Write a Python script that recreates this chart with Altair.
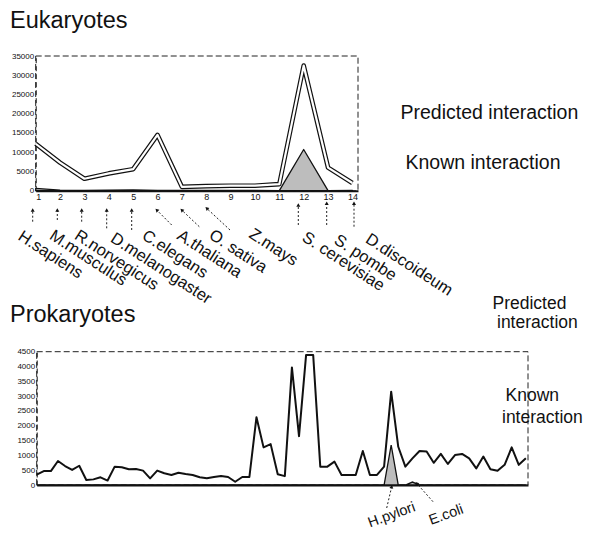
import math
import altair as alt
import pandas as pd

# ------------------------------------------------------------------ data
EUK_INDEX = [1, 2, 3, 4, 5, 6, 7, 8, 9, 10, 11, 12, 13, 14]
EUK_PREDICTED = [12200, 7300, 3100, 4500, 5600, 14500, 1000, 1200, 1300, 1300, 1700, 32500, 6000, 2000]
EUK_KNOWN = [600, 150, 100, 150, 200, 100, 50, 50, 50, 50, 0, 10700, 0, 100]
EUK_Y_TICKS = [0, 5000, 10000, 15000, 20000, 25000, 30000, 35000]
EUK_ORGANISMS = ["H.sapiens", "M.musculus", "R.norvegicus", "D.melanogaster", "C.elegans",
                 "A.thaliana", "O. sativa", "Z.mays", "S. cerevisiae", "S. pombe", "D.discoideum"]

PROK_INDEX = list(range(1, 71))
PROK_PREDICTED = [350, 470, 470, 810, 640, 510, 650, 170, 190, 260,
                  150, 620, 600, 530, 540, 485, 225, 485, 395, 340,
                  415, 370, 340, 260, 225, 270, 305, 270, 110, 270,
                  270, 2290, 1270, 1380, 360, 300, 3970, 1650, 4390, 4390,
                  620, 620, 790, 340, 340, 340, 1150, 340, 340, 620,
                  3150, 1290, 620, 900, 1150, 1130, 750, 1050, 710, 1010,
                  1050, 900, 560, 960, 530, 480, 680, 1270, 680, 900]
PROK_KNOWN = [0, 0, 0, 0, 0, 0, 0, 0, 0, 0,
              0, 0, 0, 0, 0, 0, 0, 0, 0, 0,
              0, 0, 0, 0, 0, 0, 0, 0, 0, 0,
              0, 0, 0, 0, 0, 0, 0, 0, 0, 0,
              0, 0, 0, 0, 0, 0, 0, 0, 0, 0,
              1350, 0, 0, 100, 0, 0, 0, 0, 0, 0,
              0, 0, 0, 0, 0, 0, 0, 0, 0, 0]
PROK_Y_TICKS = [0, 500, 1000, 1500, 2000, 2500, 3000, 3500, 4000, 4500]
PROK_LABELS = ["H.pylori", "E.coli"]

# ------------------------------------------------------------------ layout (page pixels)
W, H = 579, 522
M = 8  # page margin; plot area covers the whole page content


def P(v):
    return v - M


FONT = "Liberation Sans"
INK = "#111111"

EUK_X_DOMAIN = [1, 14.23]
EUK_X_RANGE = [P(35.7), P(358.0)]
EUK_Y_DOMAIN = [0, 35000]
EUK_Y_RANGE = [P(190.7), P(56.0)]
PROK_X_DOMAIN = [1, 70.3]
PROK_X_RANGE = [P(36.7), P(528.0)]
PROK_Y_DOMAIN = [0, 4500]
PROK_Y_RANGE = [P(485.0), P(351.7)]

# ------------------------------------------------------------------ Eukaryotes panel
euk_df = pd.DataFrame({"idx": EUK_INDEX, "predicted": EUK_PREDICTED, "known": EUK_KNOWN})
euk_frame = pd.DataFrame({"x0": [EUK_X_DOMAIN[0]], "x1": [EUK_X_DOMAIN[1]],
                          "y0": [EUK_Y_DOMAIN[0]], "y1": [EUK_Y_DOMAIN[1]]})

euk_xscale = alt.Scale(domain=EUK_X_DOMAIN, range=EUK_X_RANGE, nice=False, zero=False)
euk_yscale = alt.Scale(domain=EUK_Y_DOMAIN, range=EUK_Y_RANGE, nice=False, zero=False)
euk_xaxis = alt.Axis(orient="bottom", offset=-(H - EUK_Y_RANGE[0]), values=EUK_INDEX, format="d",
                     title=None, grid=False, ticks=False, labelPadding=2, labelFontSize=9,
                     labelFont=FONT, labelColor=INK, domainColor=INK, domainWidth=2)
euk_yaxis = alt.Axis(orient="left", offset=-EUK_X_RANGE[0], values=EUK_Y_TICKS, format="d",
                     title=None, grid=False, ticks=False, labelPadding=2, labelFontSize=8,
                     labelFont=FONT, labelColor=INK, domainColor=INK, domainDash=[5, 3])

euk_area = alt.Chart(euk_df).mark_area(fill="#bdbdbd", stroke=INK, strokeWidth=1.3,
                                       strokeJoin="round").encode(
    x=alt.X("idx:Q", scale=euk_xscale, axis=euk_xaxis),
    y=alt.Y("known:Q", scale=euk_yscale, axis=euk_yaxis),
)
euk_line_out = alt.Chart(euk_df).mark_line(color=INK, strokeWidth=4.6, strokeJoin="round").encode(
    x=alt.X("idx:Q", scale=euk_xscale, axis=euk_xaxis),
    y=alt.Y("predicted:Q", scale=euk_yscale, axis=euk_yaxis),
)
euk_line_in = alt.Chart(euk_df).mark_line(color="white", strokeWidth=2.2, strokeJoin="round").encode(
    x=alt.X("idx:Q", scale=euk_xscale, axis=euk_xaxis),
    y=alt.Y("predicted:Q", scale=euk_yscale, axis=euk_yaxis),
)
euk_box = alt.Chart(euk_frame).mark_rect(filled=False, color="#222222", strokeWidth=1,
                                         strokeDash=[6, 3]).encode(
    x=alt.X("x0:Q", scale=euk_xscale, axis=euk_xaxis), x2="x1",
    y=alt.Y("y0:Q", scale=euk_yscale, axis=euk_yaxis), y2="y1",
)
euk = alt.layer(euk_box, euk_area, euk_line_out, euk_line_in)

# ------------------------------------------------------------------ Prokaryotes panel
prok_df = pd.DataFrame({"idx": PROK_INDEX, "predicted": PROK_PREDICTED, "known": PROK_KNOWN})
prok_frame = pd.DataFrame({"x0": [PROK_X_DOMAIN[0]], "x1": [PROK_X_DOMAIN[1]],
                           "y0": [PROK_Y_DOMAIN[0]], "y1": [PROK_Y_DOMAIN[1]]})

prok_xscale = alt.Scale(domain=PROK_X_DOMAIN, range=PROK_X_RANGE, nice=False, zero=False)
prok_yscale = alt.Scale(domain=PROK_Y_DOMAIN, range=PROK_Y_RANGE, nice=False, zero=False)
prok_xaxis = alt.Axis(orient="bottom", offset=-(H - PROK_Y_RANGE[0]), labels=False, ticks=False,
                      title=None, grid=False, domainColor=INK, domainWidth=2)
prok_yaxis = alt.Axis(orient="left", offset=-PROK_X_RANGE[0], values=PROK_Y_TICKS, format="d",
                      title=None, grid=False, ticks=False, labelPadding=2, labelFontSize=8,
                      labelFont=FONT, labelColor=INK, domainColor=INK, domainDash=[5, 3])

prok_area = alt.Chart(prok_df).mark_area(fill="#bdbdbd", stroke=INK, strokeWidth=1.3).encode(
    x=alt.X("idx:Q", scale=prok_xscale, axis=prok_xaxis),
    y=alt.Y("known:Q", scale=prok_yscale, axis=prok_yaxis),
)
prok_line = alt.Chart(prok_df).mark_line(color=INK, strokeWidth=2, strokeJoin="round").encode(
    x=alt.X("idx:Q", scale=prok_xscale, axis=prok_xaxis),
    y=alt.Y("predicted:Q", scale=prok_yscale, axis=prok_yaxis),
)
prok_box = alt.Chart(prok_frame).mark_rect(filled=False, color="#222222", strokeWidth=1,
                                           strokeDash=[6, 3]).encode(
    x=alt.X("x0:Q", scale=prok_xscale, axis=prok_xaxis), x2="x1",
    y=alt.Y("y0:Q", scale=prok_yscale, axis=prok_yaxis), y2="y1",
)
prok = alt.layer(prok_box, prok_area, prok_line)

# ------------------------------------------------------------------ annotations (page pixels)
titles = pd.DataFrame({"text": ["Eukaryotes", "Prokaryotes"],
                       "px": [P(10), P(10)], "py": [P(28.3), P(321.7)]})
euk_legend = pd.DataFrame({"text": ["Predicted interaction", "Known interaction"],
                           "px": [P(400.5), P(405.5)], "py": [P(119), P(169)]})
prok_legend = pd.DataFrame({"text": ["Predicted", "interaction", "Known", "interaction"],
                            "px": [P(492.5), P(497), P(505.5), P(502)],
                            "py": [P(309.3), P(328.3), P(400.7), P(423)]})
org_anchor_x = [17, 48.5, 73.5, 109.5, 141, 176, 208, 248, 301, 333, 364.5]
org_anchor_y = [239, 238.3, 238.3, 241, 238.3, 238.3, 237.7, 236.7, 240, 242.7, 241.7]
org_labels = pd.DataFrame({"text": EUK_ORGANISMS,
                           "px": [P(v) for v in org_anchor_x], "py": [P(v) for v in org_anchor_y]})
prok_lab = pd.DataFrame({"text": PROK_LABELS, "px": [P(370), P(431)], "py": [P(527.5), P(525)]})

# arrows: tail -> tip
arrow_tail = [(32.7, 221.7), (57.3, 220), (81.7, 221.7), (106.7, 228.3), (131.7, 230),
              (171.7, 225), (199.3, 226.7), (230, 230), (298.3, 225), (326.7, 225), (354, 226.7),
              (386.7, 508), (433, 501.7)]
arrow_tip = [(32.7, 210), (57.3, 210), (81.7, 210), (106.7, 210), (131.7, 210),
             (156.7, 210), (181.7, 210), (206.7, 208.3), (298.3, 205), (326.7, 203.3), (354, 203.3),
             (391.7, 486.7), (416.7, 483.3)]
arrows = pd.DataFrame({
    "x1": [P(t[0]) for t in arrow_tail], "y1": [P(t[1]) for t in arrow_tail],
    "x2": [P(t[0]) for t in arrow_tip], "y2": [P(t[1]) for t in arrow_tip],
    "ang": [(math.degrees(math.atan2(b[0] - a[0], -(b[1] - a[1]))) + 360) % 360
            for a, b in zip(arrow_tail, arrow_tip)],
})


def text_layer(df, size, angle=0):
    return alt.Chart(df).mark_text(align="left", baseline="alphabetic", font=FONT,
                                   fontSize=size, color=INK, angle=angle).encode(
        x=alt.X("px:Q", scale=None), y=alt.Y("py:Q", scale=None), text="text:N")


arrow_lines = alt.Chart(arrows).mark_rule(color="#222222", strokeWidth=1, strokeDash=[2, 2]).encode(
    x=alt.X("x1:Q", scale=None), y=alt.Y("y1:Q", scale=None), x2="x2", y2="y2")
arrow_heads = alt.Chart(arrows).mark_point(shape="triangle-up", filled=True, size=16,
                                           color=INK, opacity=1).encode(
    x=alt.X("x2:Q", scale=None), y=alt.Y("y2:Q", scale=None), angle=alt.Angle("ang:Q", scale=None))

notes = alt.layer(
    text_layer(titles, 23.5),
    text_layer(euk_legend, 19.5),
    text_layer(prok_legend, 17.5),
    text_layer(org_labels, 16.5, 33),
    text_layer(prok_lab, 14.5, 340),
    arrow_lines,
    arrow_heads,
)

chart = alt.layer(euk, prok, notes).resolve_scale(
    x="independent", y="independent"
).properties(
    width=W, height=H, padding=0, autosize=alt.AutoSizeParams(type="none")
).configure_view(stroke=None)

chart.save("out.html", embed_options={"renderer": "svg", "actions": False})
